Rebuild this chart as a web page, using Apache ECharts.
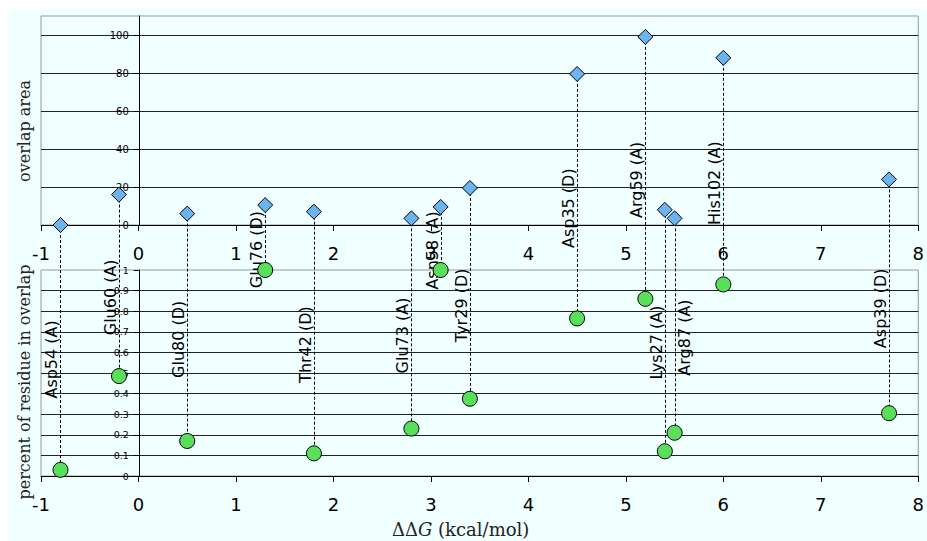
<!DOCTYPE html>
<html>
<head>
<meta charset="utf-8">
<script src="https://cdn.jsdelivr.net/npm/echarts@6/dist/echarts.min.js"></script>
<style>
  html, body { margin: 0; padding: 0; background: #ffffff; }
  #wrap { position: relative; width: 927px; height: 541px; overflow: hidden; }
  #panel { position: absolute; left: 8px; top: 9px; right: 0; bottom: 0; background: #F0FFFF; }
  #chart { position: absolute; left: 0; top: 0; width: 927px; height: 541px; }
</style>
</head>
<body>
<div id="wrap"><div id="panel"></div><div id="chart"></div></div>
<script>
// Residues (chain in brackets) and their binding free-energy change
const residues = ['Asp54 (A)', 'Glu60 (A)', 'Glu80 (D)', 'Glu76 (D)', 'Thr42 (D)', 'Glu73 (A)', 'Asn58 (A)',
                  'Tyr29 (D)', 'Asp35 (D)', 'Arg59 (A)', 'Lys27 (A)', 'Arg87 (A)', 'His102 (A)', 'Asp39 (D)'];
const ddG = [-0.8, -0.2, 0.5, 1.3, 1.8, 2.8, 3.1, 3.4, 4.5, 5.2, 5.4, 5.5, 6.0, 7.7];
// Upper panel: overlap area
const overlapArea = [0, 16, 6, 10.5, 7, 3.5, 9.5, 19.5, 79.5, 99, 8, 3.5, 88, 24];
// Lower panel: fraction of the residue inside the overlap
const residueFraction = [0.03, 0.485, 0.17, 1.0, 0.11, 0.23, 1.0, 0.375, 0.765, 0.86, 0.12, 0.21, 0.93, 0.305];

// Axis ranges: [min, max, interval]
const xRange = [-1, 8, 1];
const areaRange = [0, 110, 20];
const fractionRange = [0, 1, 0.1];

// names written on the right of their leader line (to keep clear of a close neighbour)
const rightSideNames = ['Arg87 (A)'];

const SANS = '"DejaVu Sans", Verdana, sans-serif';
const SERIF = '"DejaVu Serif", "Liberation Serif", serif';

const GRID_LEFT = 41, GRID_RIGHT = 6;
const plotWidth = 927 - GRID_LEFT - GRID_RIGHT;
// the vertical axes sit on x = 0, inside the plot
const yAxisShift = -plotWidth * (0 - xRange[0]) / (xRange[1] - xRange[0]);

const chart = echarts.init(document.getElementById('chart'), null, { renderer: 'svg' });

function xAxisFor(gridIndex) {
  return {
    type: 'value', gridIndex: gridIndex,
    min: xRange[0], max: xRange[1], interval: xRange[2],
    axisLine: { show: true, onZero: false, lineStyle: { color: '#000', width: 1 } },
    axisTick: { show: true, length: 6, lineStyle: { color: '#000' } },
    axisLabel: { show: true, margin: 19, color: '#000', fontSize: 18, fontFamily: SANS },
    splitLine: { show: false }
  };
}

function yAxisFor(gridIndex, range, fontSize, showMax) {
  return {
    type: 'value', gridIndex: gridIndex,
    min: range[0], max: range[1], interval: range[2],
    offset: yAxisShift,
    axisLine: { show: true, onZero: false, lineStyle: { color: '#000', width: 1 } },
    axisTick: { show: true, length: 5, lineStyle: { color: '#000' } },
    axisLabel: { show: true, margin: 10, color: '#000', fontSize: fontSize, fontFamily: SANS, showMaxLabel: showMax },
    splitLine: { show: true, showMinLine: false, showMaxLine: false, lineStyle: { color: '#222', width: 1 } }
  };
}

const connectors = ddG.map((x, i) => [x, residueFraction[i], overlapArea[i]]);

chart.setOption({
  animation: false,
  backgroundColor: 'transparent',
  grid: [
    { left: GRID_LEFT, right: GRID_RIGHT, top: 16, height: 209, show: true, borderColor: '#999', borderWidth: 1, backgroundColor: 'transparent' },
    { left: GRID_LEFT, right: GRID_RIGHT, top: 270, height: 206, show: true, borderColor: '#999', borderWidth: 1, backgroundColor: 'transparent' }
  ],
  xAxis: [xAxisFor(0), xAxisFor(1)],
  yAxis: [yAxisFor(0, areaRange, 10, false), yAxisFor(1, fractionRange, 9.5, true)],
  title: {
    left: 392, top: 520, padding: 0,
    text: '{d|ΔΔ}{g|G}{d| (kcal/mol)}',
    textStyle: {
      fontWeight: 'normal',
      rich: {
        d: { fontFamily: SERIF, fontSize: 18, fontWeight: 'normal', color: '#222' },
        g: { fontFamily: SERIF, fontSize: 18, fontWeight: 'normal', fontStyle: 'italic', color: '#222' }
      }
    }
  },
  graphic: [
    { type: 'text', x: 24, y: 131, rotation: Math.PI / 2, silent: true,
      style: { text: 'overlap area', font: '16px ' + SERIF, fill: '#222', align: 'center', verticalAlign: 'middle' } },
    { type: 'text', x: 24, y: 382, rotation: Math.PI / 2, silent: true,
      style: { text: 'percent of residue in overlap', font: '16px ' + SERIF, fill: '#222', align: 'center', verticalAlign: 'middle' } }
  ],
  series: [
    {
      // dashed leaders joining each residue's two points, with its name alongside
      type: 'custom', xAxisIndex: 1, yAxisIndex: 1, z: 1, clip: false, silent: true,
      data: connectors,
      renderItem: function (params, api) {
        const x = api.value(0);
        const pb = api.coord([x, api.value(1)]);
        const pt = chart.convertToPixel({ xAxisIndex: 0, yAxisIndex: 0 }, [x, api.value(2)]);
        const lx = Math.round(pb[0]) + 0.5;
        const midY = (pb[1] + pt[1]) / 2 + 12;
        const name = residues[params.dataIndex];
        const onRight = rightSideNames.indexOf(name) >= 0;
        return {
          type: 'group',
          children: [
            { type: 'line', shape: { x1: lx, y1: pt[1], x2: lx, y2: pb[1] },
              style: { stroke: '#000', lineWidth: 1, lineDash: [3, 2] } },
            { type: 'text', x: onRight ? lx + 1 : lx - 1, y: midY, rotation: Math.PI / 2,
              style: { text: name, font: '16px ' + SANS, fill: '#000',
                       align: 'center', verticalAlign: onRight ? 'top' : 'bottom' } }
          ]
        };
      }
    },
    {
      type: 'scatter', xAxisIndex: 0, yAxisIndex: 0, z: 3,
      symbol: 'diamond', symbolSize: 15,
      itemStyle: { color: '#6AB4F2', borderColor: '#000', borderWidth: 1, opacity: 1 },
      data: ddG.map((x, i) => [x, overlapArea[i]])
    },
    {
      type: 'scatter', xAxisIndex: 1, yAxisIndex: 1, z: 3,
      symbol: 'circle', symbolSize: 15,
      itemStyle: { color: '#5ADF5A', borderColor: '#000', borderWidth: 1, opacity: 1 },
      data: ddG.map((x, i) => [x, residueFraction[i]])
    }
  ]
});
</script>
</body>
</html>
